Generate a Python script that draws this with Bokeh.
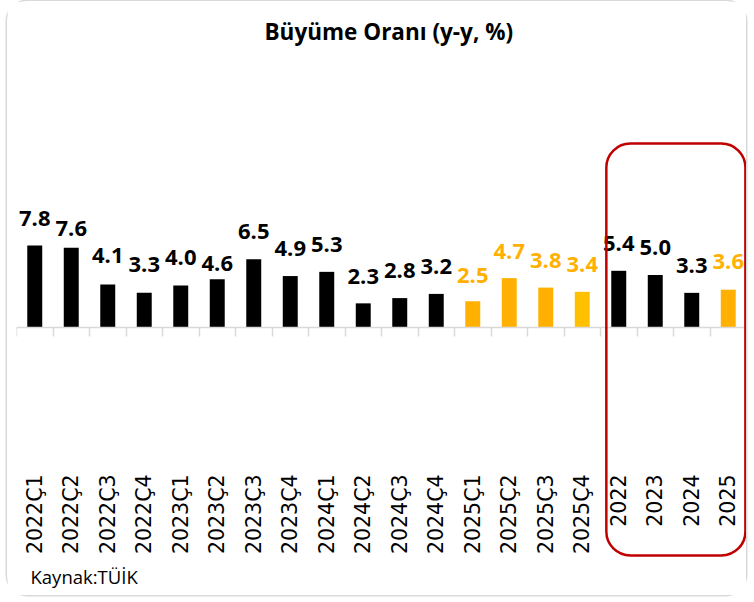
import math
from bokeh.plotting import figure
from bokeh.models import (Range1d, FixedTicker, LinearAxis, BoxAnnotation, Title,
                          ColumnDataSource)
from bokeh.embed import file_html
from bokeh.resources import INLINE
from bokeh.core.properties import value

# ---- data ----
categories = ["2022Ç1", "2022Ç2", "2022Ç3", "2022Ç4",
              "2023Ç1", "2023Ç2", "2023Ç3", "2023Ç4",
              "2024Ç1", "2024Ç2", "2024Ç3", "2024Ç4",
              "2025Ç1", "2025Ç2", "2025Ç3", "2025Ç4",
              "2022", "2023", "2024", "2025"]
growth = [7.8, 7.6, 4.1, 3.3, 4.0, 4.6, 6.5, 4.9, 5.3, 2.3, 2.8, 3.2,
          2.5, 4.7, 3.8, 3.4, 5.4, 5.0, 3.3, 3.6]
highlight_2025 = [False] * 12 + [True] * 4 + [False, False, False, True]
annual_start = categories.index("2022")

# ---- styles ----
BLACK = "#000000"
ORANGE = "#FFB000"
YELLOW = "#FFC000"
RED = "#C00000"
GREY = "#D9D9D9"
AXIS_FONT = "DejaVu Sans"
TEXT_FONT = "Open Sans"

# visual gap (px) between a value label and its bar top, as placed in the original
label_gap_px = [19, 10.6, 20, 19.7, 19.7, 7, 19, 19.3, 18.4, 18.3, 19, 19,
                17.7, 18.3, 18.3, 18.7, 19, 19, 19.3, 20]
BASELINE_CORR = 8.5

bar_colors = []
label_colors = []
for c, h in zip(categories, highlight_2025):
    if h:
        bar_colors.append(YELLOW if c == "2025Ç4" else ORANGE)
        label_colors.append(ORANGE)
    else:
        bar_colors.append(BLACK)
        label_colors.append(BLACK)

n = len(categories)
xs = list(range(n))
src = ColumnDataSource(dict(x=xs, top=growth,
                            label=[f"{v:.1f}" for v in growth],
                            dy=[-(g + BASELINE_CORR) for g in label_gap_px],
                            bar_color=bar_colors, label_color=label_colors))

p = figure(width=739, height=594, output_backend="svg", toolbar_location=None,
           x_range=Range1d(-0.5, n - 0.5), y_range=Range1d(-22.19, 26.667),
           min_border_left=9, min_border_right=0, min_border_top=46,
           min_border_bottom=35)
p.outline_line_color = None
p.background_fill_color = "white"
p.border_fill_color = "white"
p.xgrid.visible = False
p.ygrid.visible = False
p.yaxis.visible = False
p.styles = {"margin-left": "7px", "margin-top": "1px",
            "box-shadow": "0 0 0 1.5px #D9D9D9", "border-radius": "20px"}

# title
p.title.text = "Büyüme Oranı (y-y, %)"
p.title.align = "left"
p.title.offset = 248
p.title.vertical_align = "bottom"
p.title.text_font = TEXT_FONT
p.title.text_font_style = "bold"
p.title.text_font_size = "22.5px"
p.title.text_color = BLACK
p.title.standoff = 2

# category labels axis (labels drawn low, inside the plot area)
label_axis = p.below[0]
label_axis.ticker = FixedTicker(ticks=xs)
label_axis.major_label_overrides = {i: c for i, c in zip(xs, categories)}
label_axis.major_label_orientation = math.pi / 2
label_axis.major_label_text_font = AXIS_FONT
label_axis.major_label_text_font_size = "20.5px"
label_axis.major_label_text_color = BLACK
label_axis.major_label_standoff = -92
label_axis.axis_line_color = None
label_axis.major_tick_line_color = None
label_axis.minor_tick_line_color = None

# zero line with boundary ticks
base_axis = LinearAxis(fixed_location=0,
                       ticker=FixedTicker(ticks=[i - 0.5 for i in range(n + 1)]),
                       axis_line_color=GREY, axis_line_width=1.5,
                       major_tick_line_color=GREY, major_tick_line_width=1.5,
                       major_tick_in=0, major_tick_out=9,
                       minor_tick_line_color=None,
                       major_label_text_font_size="0px",
                       major_label_text_alpha=0)
p.add_layout(base_axis, "below")

# bars
p.vbar(x="x", top="top", width=0.41, bottom=0, source=src,
       fill_color="bar_color", line_color=None)

# value labels
p.text(x="x", y="top", text="label", source=src, text_color="label_color",
       text_font=value(TEXT_FONT), text_font_style="bold", text_font_size="22px",
       text_align="center", text_baseline="alphabetic", y_offset="dy")

# red rounded box around annual values
box = BoxAnnotation(left=annual_start - 0.34, right=n - 0.53,
                    top=17.52, bottom=-21.71,
                    fill_color=None, fill_alpha=0,
                    line_color=RED, line_alpha=1.0, line_width=2.5,
                    border_radius=24)
p.add_layout(box)

# source note
p.add_layout(Title(text="Kaynak:TÜİK", align="left", offset=14, standoff=3,
                   text_font=TEXT_FONT, text_font_style="normal",
                   text_font_size="18.5px", text_color=BLACK), "below")

open("out.html", "w").write(file_html(p, INLINE))
